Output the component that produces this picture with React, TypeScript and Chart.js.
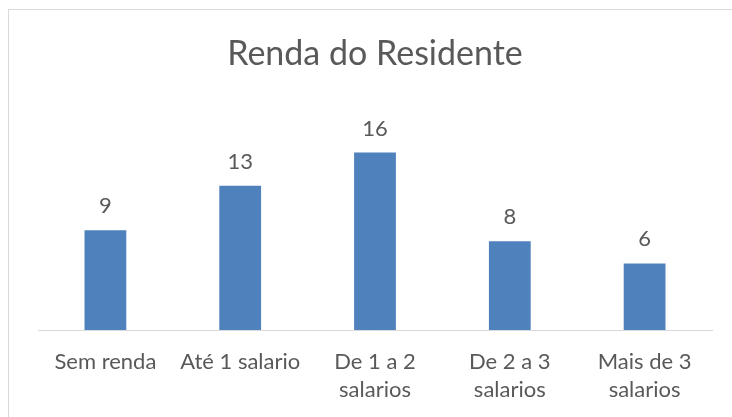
import React, { useEffect, useRef } from "react";
import { Chart, registerables } from "chart.js";

Chart.register(...registerables);

const categories: string[][] = [
  ["Sem renda"],
  ["Até 1 salario"],
  ["De 1 a 2", "salarios"],
  ["De 2 a 3", "salarios"],
  ["Mais de 3", "salarios"],
];
const values: number[] = [9, 13, 16, 8, 6];
const chartTitle = "Renda do Residente";

const FONT = "Lato";
const TEXT = "#595959";

const dataLabels = {
  id: "dataLabels",
  afterDatasetsDraw(chart: any) {
    const ctx = chart.ctx;
    const meta = chart.getDatasetMeta(0);
    ctx.save();
    ctx.font = `22px ${FONT}`;
    ctx.fillStyle = TEXT;
    ctx.textAlign = "center";
    ctx.textBaseline = "alphabetic";
    meta.data.forEach((bar: any, i: number) => {
      ctx.fillText(String(values[i]), bar.x, bar.y - 17);
    });
    ctx.restore();
  },
};

export default function App() {
  const ref = useRef<HTMLCanvasElement>(null);
  useEffect(() => {
    if (!ref.current) return;
    const chart = new Chart(ref.current, {
      type: "bar",
      data: {
        labels: categories,
        datasets: [
          {
            data: values,
            backgroundColor: "#4F81BD",
            borderWidth: 0,
            barPercentage: 0.31,
            categoryPercentage: 1,
          },
        ],
      },
      options: {
        responsive: false,
        animation: false,
        layout: { padding: { left: 38, right: 20, top: 0, bottom: 0 } },
        plugins: {
          legend: { display: false },
          tooltip: { enabled: false },
          title: {
            display: true,
            text: chartTitle,
            color: TEXT,
            font: { family: FONT, size: 34, weight: "normal", lineHeight: 1.2 },
            padding: { top: 34, bottom: 55.6 },
          },
        },
        scales: {
          y: {
            display: false,
            min: 0,
            max: 18,
          },
          x: {
            grid: { display: false },
            border: { display: true, color: "#D9D9D9", width: 1 },
            ticks: {
              color: TEXT,
              font: { family: FONT, size: 22, lineHeight: 28 / 22 },
              padding: 10,
              maxRotation: 0,
              autoSkip: false,
            },
            afterFit: (scale: any) => {
              scale.height = 87;
            },
          },
        },
      },
      plugins: [dataLabels],
    });
    return () => chart.destroy();
  }, []);

  return (
    <div
      style={{
        position: "absolute",
        left: 0,
        top: 0,
        width: 732,
        height: 417,
        overflow: "hidden",
        background: "#fff",
      }}
    >
      <div
        style={{
          position: "absolute",
          left: 8,
          top: 9,
          width: 800,
          height: 500,
          border: "1px solid #D9D9D9",
        }}
      />
      <canvas
        ref={ref}
        width={732}
        height={417}
        style={{ position: "absolute", left: 0, top: 0 }}
      />
    </div>
  );
}
